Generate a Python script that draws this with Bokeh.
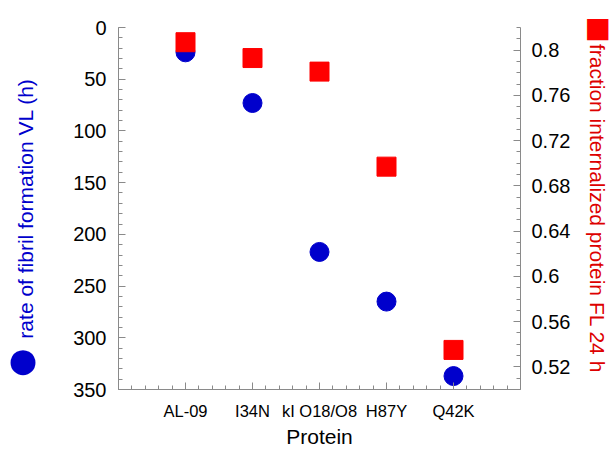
from bokeh.plotting import figure
from bokeh.models import Range1d, LinearAxis, FixedTicker, NumeralTickFormatter
from bokeh.embed import file_html
from bokeh.resources import INLINE

proteins = ["AL-09", "I34N", "kI O18/O8", "H87Y", "Q42K"]
fibril_rate_h = [24, 73, 217, 265, 337]
fraction_internalized = [0.807, 0.793, 0.781, 0.697, 0.535]

left_ticks = [0, 50, 100, 150, 200, 250, 300, 350]
right_ticks = [0.52, 0.56, 0.6, 0.64, 0.68, 0.72, 0.76, 0.8]

left_title = "rate of fibril formation VL (h)"
right_title = "fraction internalized protein FL 24 h"
x_title = "Protein"

x_pos = list(range(1, len(proteins) + 1))
left_minor = list(range(0, 351, 10))
right_minor = [round(0.5 + 0.01 * i, 2) for i in range(33)]
x_minor = [round(0.2 * i, 1) for i in range(5 * (len(proteins) + 1) + 1)]

# where the series symbols sit beside the axis titles (axis units)
LEFT_KEY_AT = 320
RIGHT_KEY_AT = 0.82

BLUE = "#0000cc"
RED = "#ff0000"
RED_TEXT = "#dd0000"
FONT = "Liberation Sans"
AXIS_COLOR = "#8a8a8a"

p = figure(width=614, height=451, output_backend="svg", toolbar_location=None,
           x_range=Range1d(0, len(proteins) + 1), y_range=Range1d(350, 0),
           min_border_left=118, min_border_right=90, min_border_top=27,
           min_border_bottom=62)
p.outline_line_color = None
p.grid.visible = False
p.background_fill_color = "white"
p.border_fill_color = "white"

p.extra_y_ranges = {"frac": Range1d(0.5, 0.82)}
raxis = LinearAxis(y_range_name="frac")
p.add_layout(raxis, "right")

def style(ax, label_size):
    ax.axis_line_color = AXIS_COLOR
    ax.major_tick_line_color = AXIS_COLOR
    ax.minor_tick_line_color = AXIS_COLOR
    ax.major_tick_in = 7
    ax.major_tick_out = 0
    ax.minor_tick_in = 4
    ax.minor_tick_out = 0
    ax.major_label_text_font = FONT
    ax.major_label_text_font_size = label_size
    ax.major_label_text_color = "black"
    ax.axis_label_text_font = FONT
    ax.axis_label_text_font_style = "normal"
    ax.axis_label_text_font_size = "21px"

xax = p.xaxis[0]
yax = p.yaxis[0]
style(xax, "16.5px")
style(yax, "20px")
style(raxis, "20px")

xax.ticker = FixedTicker(ticks=x_pos, minor_ticks=x_minor)
xax.major_label_overrides = {i: name for i, name in zip(x_pos, proteins)}
xax.axis_label = x_title
xax.axis_label_text_color = "black"
xax.major_label_standoff = 12
xax.axis_label_standoff = 2

yax.ticker = FixedTicker(ticks=left_ticks, minor_ticks=left_minor)
yax.axis_label = left_title
yax.axis_label_text_color = BLUE
yax.major_label_standoff = 12
yax.axis_label_standoff = 33

raxis.ticker = FixedTicker(ticks=right_ticks, minor_ticks=right_minor)
raxis.formatter = NumeralTickFormatter(format="0.[00]")
raxis.axis_label = right_title
raxis.axis_label_text_color = RED_TEXT
raxis.major_label_standoff = 11
raxis.axis_label_standoff = 13

# outermost axes that only carry the series symbols beside the titles
def key_axis(range_name, key_at, symbol, color, size, standoff):
    ax = LinearAxis(y_range_name=range_name,
                    ticker=FixedTicker(ticks=[key_at], minor_ticks=[]),
                    major_label_overrides={key_at: symbol})
    ax.axis_line_color = None
    ax.major_tick_line_color = None
    ax.minor_tick_line_color = None
    ax.major_tick_in = 0
    ax.major_tick_out = 0
    ax.minor_tick_in = 0
    ax.minor_tick_out = 0
    ax.major_label_text_font = FONT
    ax.major_label_text_font_size = size
    ax.major_label_text_color = color
    ax.major_label_standoff = standoff
    return ax

p.add_layout(key_axis("default", LEFT_KEY_AT, "●", BLUE, "58px", -29), "left")
p.add_layout(key_axis("frac", RIGHT_KEY_AT, "■", RED, "44px", -28), "right")

p.scatter(x_pos, fibril_rate_h, marker="circle", size=19,
          fill_color=BLUE, line_color=BLUE)
p.scatter(x_pos, fraction_internalized, marker="square", size=19,
          fill_color=RED, line_color=RED, y_range_name="frac")

open("out.html", "w").write(file_html(p, INLINE))
